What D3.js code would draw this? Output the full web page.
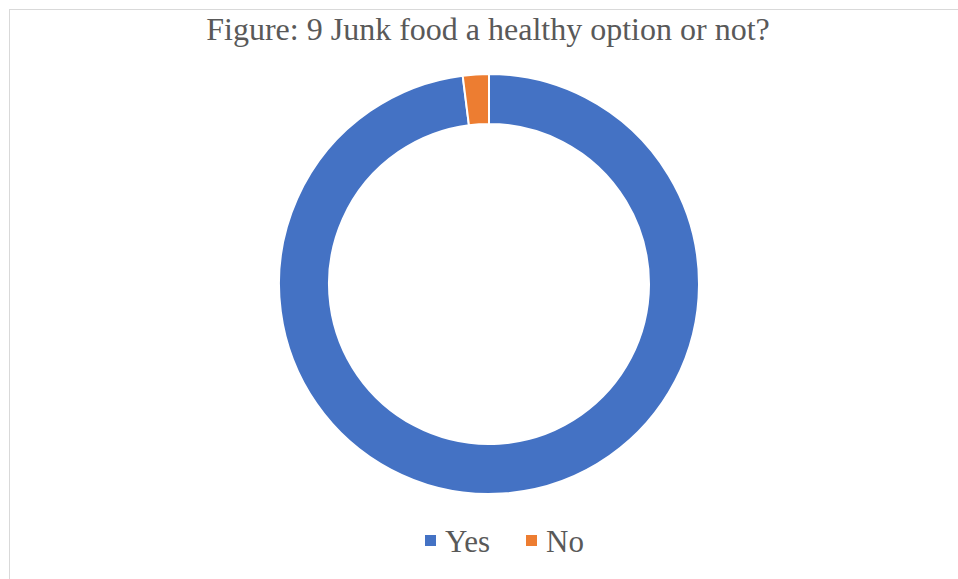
<!DOCTYPE html>
<html>
<head>
<meta charset="utf-8">
<script src="https://cdn.jsdelivr.net/npm/d3@7"></script>
<style>
  html, body { margin: 0; padding: 0; background: #fff; }
  svg { display: block; }
</style>
</head>
<body>
<svg id="chart" width="958" height="579"></svg>
<script>
const categories = ["Yes", "No"];
const values = [98, 2];
const colors = ["#4472C4", "#ED7D31"];
const title = "Figure: 9 Junk food a healthy option or not?";

const svg = d3.select("#chart");
const W = 958, H = 579;
const serif = "'Liberation Serif', 'Times New Roman', serif";

// chart area frame
svg.append("rect")
  .attr("x", 9.5).attr("y", 9.5)
  .attr("width", W).attr("height", H)
  .attr("fill", "#fff")
  .attr("stroke", "#d9d9d9")
  .attr("stroke-width", 1);

svg.append("text")
  .attr("x", 488).attr("y", 40)
  .attr("text-anchor", "middle")
  .attr("font-family", serif)
  .attr("font-size", 32)
  .attr("fill", "#595959")
  .text(title);

const cx = 489, cy = 284;
const outerR = 210, innerR = 160;

const pie = d3.pie().sort(null).value(d => d.v);
const arc = d3.arc().innerRadius(innerR).outerRadius(outerR);
const data = categories.map((c, i) => ({ c, v: values[i], color: colors[i] }));

svg.append("g")
  .attr("transform", `translate(${cx},${cy})`)
  .selectAll("path")
  .data(pie(data))
  .join("path")
  .attr("d", arc)
  .attr("fill", d => d.data.color)
  .attr("stroke", "#fff")
  .attr("stroke-width", 2);

// legend
const legend = svg.append("g");
const itemX = [425, 526];
data.forEach((d, i) => {
  const g = legend.append("g").attr("transform", `translate(${itemX[i]},0)`);
  g.append("rect")
    .attr("x", 0).attr("y", 535)
    .attr("width", 11).attr("height", 11)
    .attr("fill", d.color);
  g.append("text")
    .attr("x", 20).attr("y", 552)
    .attr("font-family", serif)
    .attr("font-size", 31)
    .attr("fill", "#595959")
    .text(d.c);
});
</script>
</body>
</html>
